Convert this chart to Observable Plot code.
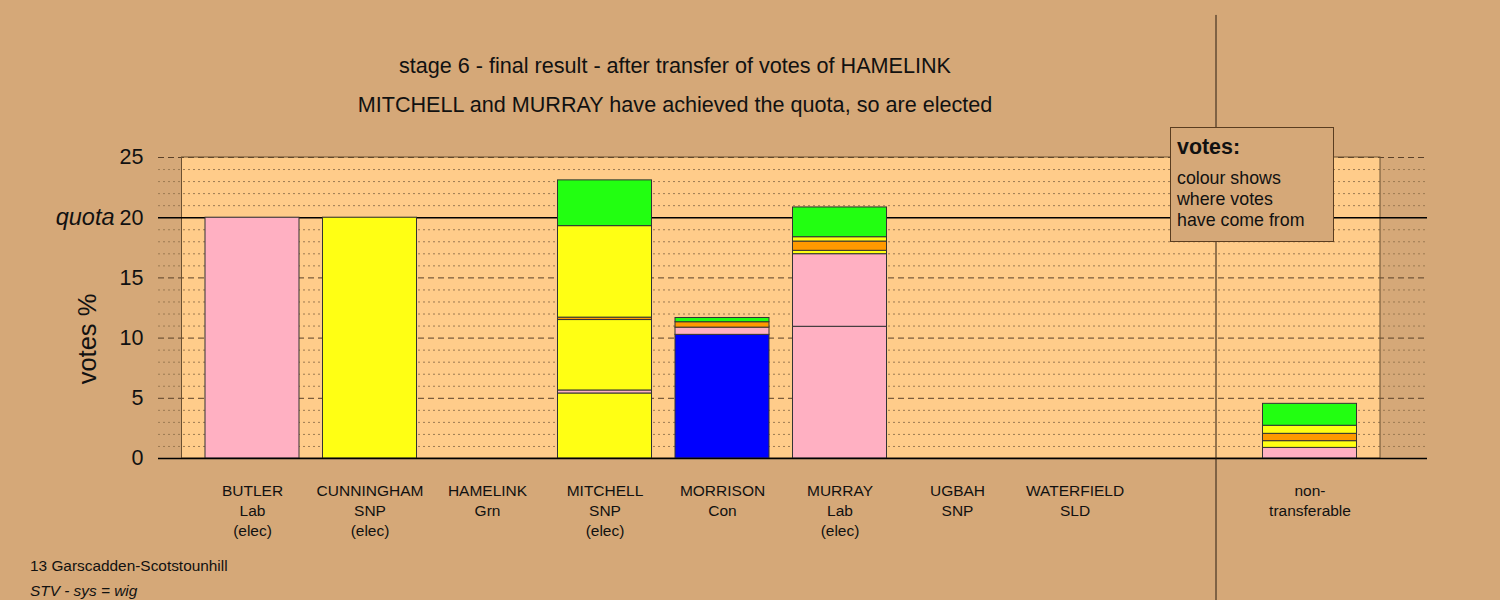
<!DOCTYPE html>
<html><head><meta charset="utf-8">
<script src="https://cdn.jsdelivr.net/npm/d3@7"></script>
<script src="https://cdn.jsdelivr.net/npm/@observablehq/plot@0.6"></script>
<style>
body{margin:0;background:#D5A878;font-family:"Liberation Sans",Arial,sans-serif;color:#111;}
#wrap{position:relative;width:1500px;height:600px;overflow:hidden;background:#D5A878;}
#chart{position:absolute;left:0;top:0;}
.t{position:absolute;white-space:nowrap;line-height:1.15;}
#title1,#title2{left:0;width:1350px;text-align:center;font-size:21.6px;}
#title1{top:54px;}
#title2{top:93px;}
#ylab{left:88px;top:339px;font-size:25.5px;transform:translate(-50%,-50%) rotate(-90deg);}
#foot1{left:30px;top:557px;font-size:15.4px;}
#foot2{left:30px;top:582px;font-size:15.4px;font-style:italic;}
#legend{position:absolute;left:1170px;top:127px;width:164px;height:115px;background:#D5A878;border:1px solid #5a3d20;box-sizing:border-box;z-index:5;}
#legend .h{position:absolute;left:6px;top:7px;font-size:21.4px;font-weight:bold;}
#legend .b{position:absolute;left:6px;top:40px;font-size:17.8px;line-height:21px;}
</style></head><body>
<div id="wrap">
<div id="chart"></div>
<div class="t" id="title1">stage 6 - final result - after transfer of votes of HAMELINK</div>
<div class="t" id="title2">MITCHELL and MURRAY have achieved the quota, so are elected</div>
<div class="t" id="ylab">votes %</div>
<div class="t" id="foot1">13 Garscadden-Scotstounhill</div>
<div class="t" id="foot2">STV - sys = wig</div>
<div id="legend"><div class="h">votes:</div><div class="b">colour shows<br>where votes<br>have come from</div></div>
</div>
<script>
// ---- data ----
const candidates = ["BUTLER","CUNNINGHAM","HAMELINK","MITCHELL","MORRISON","MURRAY","UGBAH","WATERFIELD","","non-"];
const labels = ["BUTLER\nLab\n(elec)","CUNNINGHAM\nSNP\n(elec)","HAMELINK\nGrn","MITCHELL\nSNP\n(elec)","MORRISON\nCon","MURRAY\nLab\n(elec)","UGBAH\nSNP","WATERFIELD\nSLD","","non-\ntransferable"];
const parties = ["Lab","SNP","Grn","SNP","Con","Lab","SNP","SLD",null,null];
const partyColours = {Lab:"#FFB0C2", SNP:"#FFFF14", Grn:"#22FF11", Con:"#0000FF", SLD:"#FF9900"};
const firstPrefs     = [20, 20, 0, 5.4, 10.27, 10.94, 0, 0, 0, 0];
const fromButler     = [0, 0, 0, 0.25, 0.6, 6.03, 0, 0, 0, 0.88];
const fromCunningham = [0, 0, 0, 5.85, 0, 0.28, 0, 0, 0, 0.56];
const fromWaterfield = [0, 0, 0, 0.2, 0.45, 0.77, 0, 0, 0, 0.61];
const fromUgbah      = [0, 0, 0, 7.6, 0, 0.36, 0, 0, 0, 0.67];
const fromHamelink   = [0, 0, 0, 3.8, 0.35, 2.47, 0, 0, 0, 1.82];
const transfers = [fromButler, fromCunningham, fromWaterfield, fromUgbah, fromHamelink];
const transferParties = ["Lab","SNP","SLD","SNP","Grn"];
const quota = 20;
const yTicks = [0,5,10,15,20,25];
const majorGrid = [5,10,15,25];
const minorGrid = [1,2,3,4,6,7,8,9,11,12,13,14,16,17,18,19,21,22,23,24];
const separatorAt = 9.2;

// ---- build stacked segments ----
const rows = [];
candidates.forEach((c, i) => {
  let y = 0;
  const stages = [{v: firstPrefs[i], fill: partyColours[parties[i]]}]
    .concat(transfers.map((t, k) => ({v: t[i], fill: partyColours[transferParties[k]]})));
  for (const s of stages) {
    if (s.v > 0) { rows.push({x: i + 1, y1: y, y2: y + s.v, fill: s.fill}); y += s.v; }
  }
});
const labelRows = labels.map((l, i) => ({x: i + 1, text: l}));

const plot = Plot.plot({
  width: 1500, height: 600,
  marginTop: 157, marginBottom: 142, marginLeft: 158, marginRight: 73,
  style: {background: "transparent", fontFamily: "'Liberation Sans', Arial, sans-serif", color: "#111", overflow: "visible"},
  x: {domain: [0.2, 11.0], axis: null},
  y: {domain: [0, 25], axis: null},
  marks: [
    Plot.rect([0], {x1: 0.4, x2: 10.6, y1: 0, y2: 25, fill: "#FFCC8A"}),
    Plot.ruleY(minorGrid, {stroke: "#9c7a52", strokeDasharray: "2,3", strokeWidth: 1}),
    Plot.ruleY(majorGrid, {stroke: "#5a4028", strokeDasharray: "6,4", strokeWidth: 1}),
    Plot.rect([0], {x1: 0.4, x2: 10.6, y1: 0, y2: 25, fill: "none", stroke: "#6b5030", strokeWidth: 1}),
    Plot.ruleY([quota], {stroke: "#000", strokeWidth: 1.5}),
    Plot.rect(rows, {x1: d => d.x - 0.4, x2: d => d.x + 0.4, y1: "y1", y2: "y2", fill: "fill", stroke: "#333", strokeWidth: 1}),
    Plot.ruleY([0], {stroke: "#000", strokeWidth: 1.5}),
    Plot.axisY({ticks: yTicks, tickSize: 0, tickPadding: 15, fontSize: 21.5, label: null}),
    Plot.text([quota], {y: d => d, frameAnchor: "left", dx: -44, textAnchor: "end", text: () => "quota", fontSize: 23.5, fontStyle: "italic"}),
    Plot.text(labelRows, {x: "x", y: 0, dy: 23, lineAnchor: "top", text: "text", fontSize: 15.5, lineHeight: 1.3}),
    Plot.ruleX([separatorAt], {y1: -12, y2: 36.8, stroke: "#2a1c10", strokeWidth: 1})
  ]
});
document.getElementById("chart").appendChild(plot);
</script>
</body></html>
